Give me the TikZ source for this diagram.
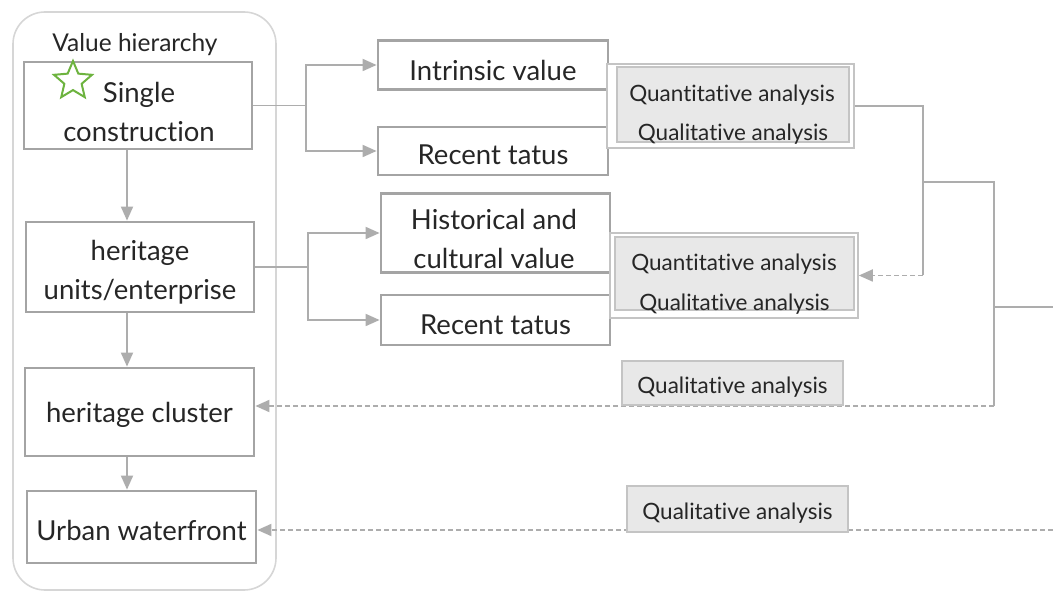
\documentclass[tikz,border=0pt]{standalone}
\usepackage{fontspec}
\setmainfont{Lato}[Ligatures=NoCommon]
\usetikzlibrary{arrows.meta,shapes.geometric}
\definecolor{boxline}{HTML}{A4A4A4}
\definecolor{connline}{HTML}{ADADAD}
\definecolor{anafill}{HTML}{E8E8E8}
\definecolor{analine}{HTML}{C4C4C4}
\definecolor{frameline}{HTML}{D6D6D6}
\definecolor{txt}{HTML}{262626}
\definecolor{stargreen}{HTML}{6DB33F}
\tikzset{
  lvlbox/.style={draw=boxline, line width=2.8pt, line cap=round, rectangle, inner sep=0pt},
  valbox/.style={draw=boxline, line width=2.8pt, line cap=round, rectangle, inner sep=0pt},
  grpbox/.style={draw=analine, line width=1.6pt, fill=white, rectangle, inner sep=0pt},
  anabox/.style={draw=analine, line width=1.2pt, fill=anafill, rectangle, inner sep=0pt},
  lbl/.style={text=txt, font=\fontsize{27.5}{39}\selectfont, align=center, inner sep=0pt},
  alb/.style={text=txt, font=\fontsize{22.5}{26}\selectfont, inner sep=0pt},
  conn/.style={draw=connline, line width=1.8pt},
  arr/.style={-{Triangle[length=14pt,width=12pt]}},
  dashline/.style={dash pattern=on 5pt off 3pt},
}
\begin{document}
\begin{tikzpicture}[x=1pt,y=-1pt]
\useasboundingbox (0,0) rectangle (1053,593);

% frame of the value hierarchy
\draw[frameline, line width=1.6pt, rounded corners=32pt] (13,12) rectangle (276,590);
\node[lbl, font=\fontsize{24.5}{28}\selectfont] (title) at (135,45) {Value hierarchy};

% hierarchy levels
\node[lvlbox, minimum width=228pt, minimum height=87pt] (box1) at (138,105.5) {};
\node[lvlbox, minimum width=228pt, minimum height=90pt] (box2) at (140,267) {};
\node[lvlbox, minimum width=229pt, minimum height=88pt] (box3) at (139.5,412) {};
\node[lvlbox, minimum width=229pt, minimum height=72pt] (box4) at (141.5,527) {};

\node[star, star points=5, star point ratio=2.2, minimum size=40pt, inner sep=0pt,
      draw=stargreen, line width=2pt, fill=white] (star) at (73,81) {};
\node[lbl] (t1) at (139,112) {Single\\construction};
\node[lbl] (t2) at (140,272) {heritage\\units/enterprise};
\node[lbl] (t3) at (139.5,415) {heritage cluster};
\node[lbl] (t4) at (141.5,530) {Urban waterfront};

% value aspects
\node[valbox, minimum width=230pt, minimum height=49pt] (iv) at (493,65) {};
\node[valbox, minimum width=230pt, minimum height=48pt] (rs1) at (493,151) {};
\node[valbox, minimum width=229pt, minimum height=79pt] (hc) at (495.5,233) {};
\node[valbox, minimum width=229pt, minimum height=50pt] (rs2) at (495.5,320) {};
\node[lbl] at (493,70) {Intrinsic value};
\node[lbl] at (493,155) {Recent tatus};
\node[lbl] at (494,239) {Historical and\\cultural value};
\node[lbl] at (495.5,325) {Recent tatus};

% analysis groups
\node[grpbox, minimum width=247pt, minimum height=84pt] (g1) at (730.5,106) {};
\node[anabox, minimum width=232pt, minimum height=75pt] (q1) at (733,104.5) {};
\node[alb] at (732,95) {Quantitative analysis};
\node[alb] at (733,134) {Qualitative analysis};

\node[grpbox, minimum width=248pt, minimum height=85pt] (g2) at (734,275.5) {};
\node[anabox, minimum width=239pt, minimum height=73pt] (q2) at (734.5,273.5) {};
\node[alb] at (734,264) {Quantitative analysis};
\node[alb] at (734.5,304) {Qualitative analysis};

% junction points
\coordinate (j1) at (306,105.5);
\coordinate (j2) at (308,267);
\coordinate (k1) at (923,106);
\coordinate (k2) at (923,182);
\coordinate (k3) at (994,182);
\coordinate (k4) at (994,307);
\coordinate (k5) at (994,406);
\coordinate (e1) at (1053,307);
\coordinate (e2) at (1053,530);
\coordinate (vx) at (127,0);

% hierarchy arrows
\draw[conn, arr] (box1.south -| vx) -- (box2.north -| vx);
\draw[conn, arr] (box2.south -| vx) -- (box3.north -| vx);
\draw[conn, arr] (box3.south -| vx) -- (box4.north -| vx);

% branches to value aspects
\draw[conn] (box1.east) -- (j1);
\draw[conn, arr] (j1) |- (iv.west);
\draw[conn, arr] (j1) |- (rs1.west);
\draw[conn] (box2.east) -- (j2);
\draw[conn, arr] (j2) |- (hc.west);
\draw[conn, arr] (j2) |- (rs2.west);

% feedback lines
\draw[conn] (g1.east) -- (k1) -- (k1 |- g2.east);
\draw[conn, dashline, arr] (k1 |- g2.east) -- (g2.east);
\draw[conn] (k2) -- (k3) -- (k5);
\draw[conn] (k4) -- (e1);
\draw[conn, dashline, arr] (k5) -- (k5 -| box3.east);
\draw[conn, dashline, arr] (e2) -- (e2 -| box4.east);

% qualitative labels on the dashed lines
\node[anabox, minimum width=221pt, minimum height=44pt] (q3) at (732.5,383) {};
\node[alb] at (732.5,387) {Qualitative analysis};
\node[anabox, minimum width=221pt, minimum height=46pt] (q4) at (737.5,509) {};
\node[alb] at (737.5,513) {Qualitative analysis};
\end{tikzpicture}
\end{document}
